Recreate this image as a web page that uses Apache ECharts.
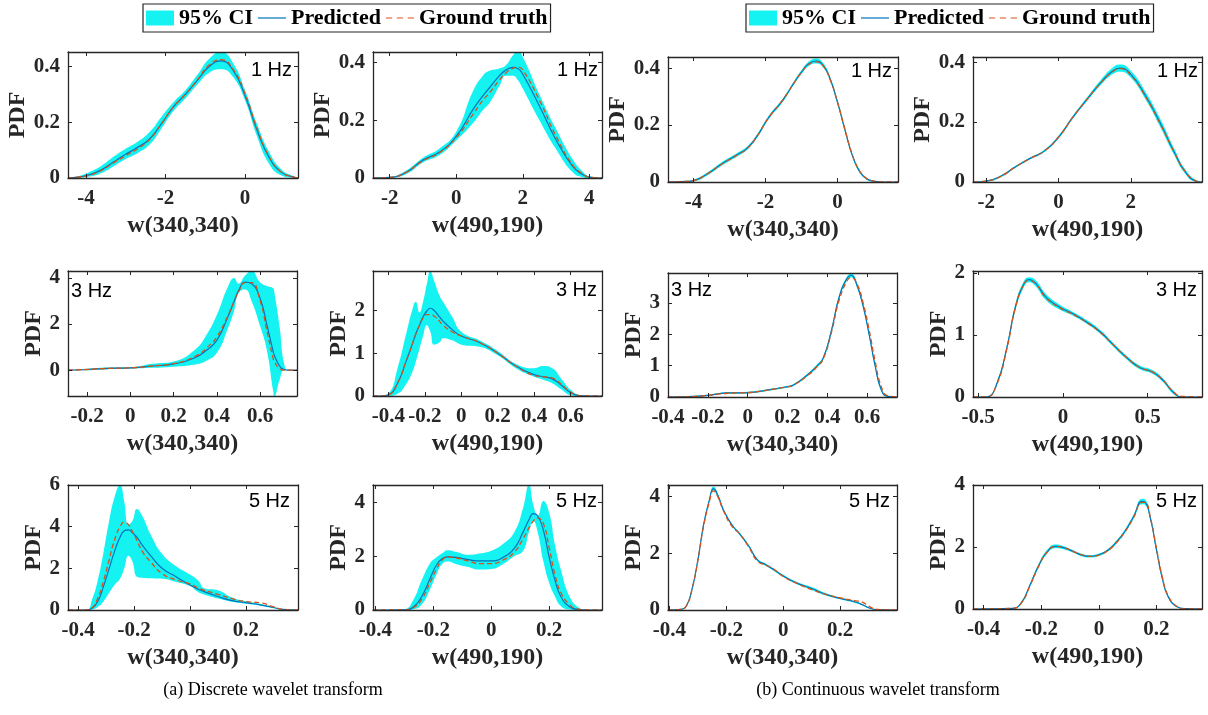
<!DOCTYPE html>
<html>
<head>
<meta charset="utf-8">
<script src="https://cdn.jsdelivr.net/npm/echarts@6/dist/echarts.min.js"></script>
<style>
html,body{margin:0;padding:0;background:#fff}
#chart{width:1208px;height:715px}
</style>
</head>
<body>
<div id="chart"></div>
<script>
// ---------- Discrete wavelet transform ----------
// w(340,340), 1 Hz
const d1a_x    = [-4.45,-4.2,-3.9,-3.6,-3.3,-3.0,-2.7,-2.4,-2.1,-1.8,-1.5,-1.2,-0.9,-0.6,-0.3,0,0.3,0.6,0.9,1.2,1.33];
const d1a_pred = [0,0.003,0.012,0.03,0.058,0.085,0.11,0.14,0.195,0.255,0.3,0.35,0.4,0.42,0.386,0.295,0.172,0.075,0.022,0.004,0];
const d1a_gt   = [0,0.003,0.011,0.028,0.055,0.08,0.105,0.138,0.195,0.255,0.3,0.352,0.405,0.425,0.39,0.302,0.178,0.078,0.022,0.004,0];
const d1a_lo   = [0,0.001,0.005,0.018,0.042,0.068,0.09,0.12,0.178,0.24,0.285,0.335,0.378,0.39,0.362,0.278,0.15,0.052,0.01,0.001,0];
const d1a_hi   = [0,0.006,0.022,0.045,0.077,0.105,0.13,0.165,0.22,0.272,0.315,0.37,0.428,0.452,0.412,0.315,0.195,0.095,0.032,0.007,0.001];

// w(490,190), 1 Hz
const d1b_x    = [-2.5,-2,-1.5,-1,-0.5,0,0.5,0.8,1.0,1.3,1.5,1.7,1.85,2.0,2.5,3.0,3.5,3.8,4.0,4.38];
const d1b_pred = [0,0.002,0.02,0.062,0.09,0.144,0.237,0.285,0.313,0.355,0.375,0.384,0.38,0.36,0.25,0.132,0.04,0.012,0.003,0];
const d1b_gt   = [0,0.002,0.02,0.06,0.088,0.14,0.22,0.27,0.295,0.34,0.365,0.38,0.385,0.375,0.27,0.145,0.045,0.014,0.003,0];
const d1b_lo   = [0,0.001,0.014,0.054,0.08,0.13,0.19,0.235,0.26,0.32,0.355,0.355,0.34,0.31,0.2,0.1,0.02,0.003,0,0];
const d1b_hi   = [0,0.004,0.026,0.07,0.102,0.16,0.3,0.355,0.372,0.38,0.392,0.425,0.44,0.42,0.29,0.17,0.065,0.022,0.006,0];

// w(340,340), 3 Hz
const d3a_x    = [-0.288,-0.2,-0.1,0,0.1,0.2,0.3,0.35,0.4,0.45,0.48,0.5,0.53,0.56,0.6,0.63,0.66,0.665,0.69,0.71,0.73,0.77];
const d3a_pred = [0,0.03,0.08,0.1,0.18,0.27,0.55,0.85,1.3,2.3,3.0,3.45,3.82,3.75,3.1,2.0,0.8,0.65,0.17,0.03,0,0];
const d3a_gt   = [0,0.03,0.08,0.1,0.18,0.28,0.6,0.95,1.45,2.35,3.0,3.4,3.8,3.8,3.0,1.75,0.5,0.38,0.05,0,0,0];
const d3a_lo   = [0,0,0.04,0.06,0.1,0.15,0.25,0.4,0.75,1.8,2.6,3.35,3.5,3.0,1.9,0.9,-0.9,-1.12,-0.4,0,0,0];
const d3a_hi   = [0,0.06,0.12,0.13,0.28,0.38,0.9,1.5,2.4,3.6,4.0,3.75,4.1,4.3,3.8,3.65,3.55,3.4,1.85,0.3,0,0];

// w(490,190), 3 Hz
const d3b_x    = [-0.485,-0.45,-0.4,-0.35,-0.3,-0.27,-0.25,-0.23,-0.21,-0.19,-0.17,-0.15,-0.12,-0.1,-0.05,0,0.1,0.2,0.3,0.4,0.45,0.5,0.55,0.6,0.65,0.7,0.773];
const d3b_pred = [0,0,0.03,0.3,0.85,1.2,1.45,1.65,1.85,1.98,2.05,2.0,1.85,1.75,1.55,1.4,1.25,1.0,0.7,0.5,0.45,0.4,0.25,0.08,0.01,0,0];
const d3b_gt   = [0,0,0.03,0.3,0.85,1.2,1.45,1.65,1.82,1.9,1.9,1.87,1.75,1.65,1.5,1.4,1.25,1.0,0.7,0.48,0.45,0.42,0.27,0.09,0.01,0,0];
const d3b_lo   = [0,0,0,0.05,0.3,0.55,0.8,1.1,1.4,1.65,1.5,1.2,1.25,1.35,1.3,1.2,1.15,0.95,0.65,0.45,0.38,0.3,0.15,0.02,0,0,0];
const d3b_hi   = [0,0,0.06,0.65,1.5,2.0,2.2,1.95,2.2,2.6,2.92,2.7,2.35,2.2,1.85,1.5,1.3,1.05,0.75,0.65,0.7,0.65,0.4,0.15,0.02,0,0];

// w(340,340), 5 Hz
const d5a_x    = [-0.436,-0.37,-0.35,-0.33,-0.31,-0.29,-0.27,-0.25,-0.235,-0.22,-0.205,-0.19,-0.17,-0.14,-0.1,-0.05,0,0.03,0.05,0.1,0.15,0.2,0.25,0.3,0.33,0.386];
const d5a_pred = [0,0,0.08,0.4,1.1,1.95,2.8,3.5,3.8,3.85,3.7,3.5,3.1,2.6,2.0,1.6,1.2,1.0,0.88,0.65,0.45,0.35,0.25,0.12,0.03,0];
const d5a_gt   = [0,0,0.1,0.55,1.35,2.35,3.35,4.0,4.22,4.1,3.75,3.35,2.8,2.3,1.75,1.45,1.25,1.05,0.95,0.75,0.55,0.4,0.35,0.15,0.04,0];
const d5a_lo   = [0,0,0.02,0.15,0.4,0.8,1.2,1.5,2.0,2.6,2.3,1.6,1.55,1.52,1.5,1.35,1.15,0.85,0.75,0.55,0.4,0.3,0.22,0.08,0.01,0];
const d5a_hi   = [0,0,0.5,1.4,2.7,4.2,5.4,6.0,5.2,4.1,4.3,4.85,4.5,3.6,2.7,2.1,1.7,1.4,1.05,0.95,0.6,0.42,0.3,0.12,0.02,0];

// w(490,190), 5 Hz
const d5b_x    = [-0.408,-0.3,-0.27,-0.24,-0.21,-0.19,-0.17,-0.15,-0.12,-0.08,-0.04,0,0.04,0.08,0.11,0.13,0.145,0.16,0.18,0.2,0.22,0.24,0.27,0.3,0.33,0.382];
const d5b_pred = [0,0.01,0.1,0.5,1.2,1.65,1.9,1.97,1.95,1.87,1.82,1.82,1.95,2.3,2.9,3.35,3.58,3.5,2.95,1.95,1.1,0.5,0.12,0.02,0,0];
const d5b_gt   = [0,0.01,0.08,0.4,1.05,1.5,1.85,1.97,1.93,1.82,1.72,1.72,1.85,2.15,2.65,3.05,3.3,3.42,3.2,2.3,1.3,0.65,0.2,0.03,0,0];
const d5b_lo   = [0,0,0.02,0.2,0.8,1.3,1.7,1.8,1.7,1.6,1.5,1.52,1.7,2.0,2.2,2.9,3.3,2.9,1.8,1.0,0.5,0.15,0.02,0,0,0];
const d5b_hi   = [0,0.03,0.35,1.1,1.75,1.95,2.1,2.22,2.15,2.05,2.1,2.2,2.45,2.9,3.8,4.65,3.9,3.5,4.05,3.6,2.4,1.5,0.5,0.1,0,0];

// ---------- Continuous wavelet transform ----------
// w(340,340), 1 Hz
const c1a_x    = [-4.71,-4.2,-4.0,-3.6,-3.2,-2.8,-2.5,-2.2,-2.0,-1.8,-1.6,-1.4,-1.2,-1.0,-0.8,-0.6,-0.4,-0.2,0,0.2,0.4,0.6,0.8,1.0,1.2,1.68];
const c1a_pred = [0,0.002,0.005,0.03,0.065,0.095,0.12,0.168,0.21,0.245,0.274,0.31,0.35,0.386,0.415,0.425,0.41,0.36,0.28,0.186,0.098,0.04,0.012,0.003,0,0];
const c1a_gt   = [0,0.002,0.005,0.03,0.064,0.094,0.119,0.167,0.21,0.245,0.275,0.31,0.35,0.385,0.413,0.422,0.408,0.358,0.28,0.188,0.1,0.042,0.013,0.003,0,0];
const c1a_lo   = [0,0,0.002,0.025,0.059,0.089,0.114,0.162,0.204,0.239,0.268,0.304,0.344,0.379,0.407,0.416,0.402,0.353,0.273,0.179,0.092,0.035,0.009,0.001,0,0];
const c1a_hi   = [0,0.004,0.008,0.035,0.071,0.101,0.126,0.174,0.216,0.251,0.28,0.316,0.356,0.393,0.423,0.434,0.418,0.367,0.287,0.193,0.104,0.045,0.015,0.005,0.001,0];

// w(490,190), 1 Hz
const c1b_x    = [-2.37,-2.0,-1.6,-1.2,-0.8,-0.4,0,0.4,0.8,1.2,1.5,1.7,2.0,2.4,2.8,3.2,3.5,3.8,3.97];
const c1b_pred = [0,0.003,0.019,0.05,0.078,0.103,0.15,0.217,0.278,0.336,0.37,0.38,0.359,0.289,0.2,0.1,0.035,0.003,0];
const c1b_gt   = [0,0.003,0.019,0.05,0.078,0.103,0.15,0.217,0.278,0.335,0.368,0.378,0.356,0.286,0.197,0.1,0.036,0.004,0];
const c1b_lo   = [0,0.001,0.016,0.047,0.075,0.099,0.145,0.212,0.272,0.328,0.36,0.368,0.348,0.277,0.187,0.09,0.028,0.001,0];
const c1b_hi   = [0,0.005,0.022,0.053,0.081,0.107,0.155,0.222,0.284,0.345,0.382,0.392,0.371,0.302,0.214,0.112,0.043,0.006,0];

// w(340,340), 3 Hz
const c3a_x    = [-0.4,-0.3,-0.2,-0.15,-0.1,-0.05,0,0.1,0.2,0.23,0.3,0.35,0.38,0.42,0.46,0.5,0.52,0.55,0.58,0.61,0.64,0.67,0.7,0.75];
const c3a_pred = [0,0.01,0.05,0.1,0.13,0.13,0.14,0.22,0.33,0.38,0.7,1.0,1.25,2.1,3.2,3.8,3.88,3.55,2.9,2.0,1.0,0.25,0.03,0];
const c3a_gt   = [0,0.01,0.05,0.09,0.12,0.13,0.14,0.22,0.33,0.38,0.68,0.98,1.22,2.05,3.1,3.72,3.82,3.6,3.0,2.15,1.15,0.35,0.05,0];
const c3a_lo   = [0,0,0.03,0.08,0.1,0.1,0.11,0.19,0.3,0.35,0.66,0.95,1.19,2.03,3.13,3.74,3.82,3.48,2.83,1.93,0.94,0.2,0.01,0];
const c3a_hi   = [0,0.02,0.07,0.12,0.16,0.16,0.17,0.25,0.36,0.41,0.74,1.05,1.31,2.17,3.27,3.86,3.94,3.62,2.97,2.07,1.06,0.3,0.05,0];

// w(490,190), 3 Hz
const c3b_x    = [-0.53,-0.45,-0.39,-0.33,-0.28,-0.23,-0.2,-0.16,-0.1,-0.02,0.06,0.14,0.22,0.29,0.37,0.45,0.53,0.59,0.65,0.7,0.82];
const c3b_pred = [0,0,0.21,0.8,1.45,1.82,1.89,1.83,1.61,1.45,1.34,1.21,1.05,0.86,0.65,0.48,0.4,0.27,0.08,0,0];
const c3b_gt   = [0,0,0.2,0.78,1.44,1.82,1.88,1.82,1.6,1.44,1.33,1.2,1.04,0.86,0.65,0.48,0.4,0.27,0.09,0.01,0];
const c3b_lo   = [0,0,0.18,0.76,1.4,1.77,1.85,1.78,1.56,1.41,1.31,1.18,1.02,0.83,0.62,0.45,0.37,0.24,0.05,0,0];
const c3b_hi   = [0,0.01,0.24,0.84,1.5,1.87,1.93,1.88,1.66,1.49,1.37,1.24,1.08,0.89,0.68,0.51,0.43,0.3,0.11,0.01,0];

// w(340,340), 5 Hz
const c5a_x    = [-0.405,-0.36,-0.34,-0.32,-0.3,-0.28,-0.26,-0.245,-0.23,-0.21,-0.18,-0.15,-0.12,-0.09,-0.06,-0.03,0,0.05,0.1,0.15,0.2,0.25,0.28,0.3,0.33,0.4];
const c5a_pred = [0,0.02,0.15,0.76,1.76,3.0,3.86,4.28,4.05,3.53,3.0,2.65,2.24,1.76,1.59,1.4,1.2,0.94,0.76,0.55,0.41,0.29,0.18,0.08,0.01,0];
const c5a_gt   = [0,0.02,0.15,0.75,1.75,2.95,3.8,4.2,4.0,3.5,2.95,2.65,2.2,1.72,1.58,1.42,1.18,0.93,0.72,0.55,0.43,0.33,0.27,0.14,0.02,0];
const c5a_lo   = [0,0.01,0.12,0.71,1.7,2.93,3.79,4.2,3.98,3.48,2.96,2.61,2.2,1.72,1.55,1.36,1.16,0.9,0.71,0.51,0.38,0.26,0.16,0.06,0,0];
const c5a_hi   = [0,0.03,0.18,0.81,1.82,3.07,3.93,4.36,4.12,3.58,3.04,2.69,2.28,1.8,1.63,1.44,1.24,0.98,0.81,0.59,0.44,0.32,0.2,0.1,0.02,0];

// w(490,190), 5 Hz
const c5b_x    = [-0.437,-0.3,-0.27,-0.24,-0.21,-0.18,-0.15,-0.12,-0.09,-0.06,-0.03,0,0.03,0.06,0.09,0.12,0.15,0.16,0.18,0.2,0.22,0.24,0.27,0.3,0.358];
const c5b_pred = [0,0.02,0.19,0.75,1.38,1.84,2.02,1.97,1.86,1.74,1.7,1.75,1.89,2.15,2.5,2.97,3.47,3.45,2.88,1.91,1.0,0.41,0.08,0.01,0];
const c5b_gt   = [0,0.02,0.18,0.73,1.36,1.83,2.02,1.98,1.86,1.75,1.7,1.74,1.88,2.13,2.48,2.94,3.44,3.44,2.9,1.95,1.04,0.44,0.09,0.01,0];
const c5b_lo   = [0,0.01,0.15,0.7,1.32,1.78,1.96,1.92,1.82,1.7,1.66,1.71,1.85,2.1,2.44,2.9,3.38,3.36,2.8,1.84,0.94,0.37,0.06,0,0];
const c5b_hi   = [0,0.03,0.23,0.8,1.44,1.9,2.08,2.02,1.9,1.78,1.74,1.79,1.93,2.2,2.56,3.04,3.56,3.54,2.96,1.98,1.06,0.45,0.1,0.02,0];

// tick values
const ticksW1a = [-4,-2,0];
const ticksW1b = [-2,0,2,4];
const ticksW1bc = [-2,0,2];
const ticksW3a = [-0.2,0,0.2,0.4,0.6];
const ticksW3b = [-0.4,-0.2,0,0.2,0.4,0.6];
const ticksW3c = [-0.5,0,0.5];
const ticksW5 = [-0.4,-0.2,0,0.2];
const ticksP04 = [0,0.2,0.4];

const curves = {
  d1a:[d1a_x,d1a_pred,d1a_gt,d1a_lo,d1a_hi], d1b:[d1b_x,d1b_pred,d1b_gt,d1b_lo,d1b_hi],
  d3a:[d3a_x,d3a_pred,d3a_gt,d3a_lo,d3a_hi], d3b:[d3b_x,d3b_pred,d3b_gt,d3b_lo,d3b_hi],
  d5a:[d5a_x,d5a_pred,d5a_gt,d5a_lo,d5a_hi], d5b:[d5b_x,d5b_pred,d5b_gt,d5b_lo,d5b_hi],
  c1a:[c1a_x,c1a_pred,c1a_gt,c1a_lo,c1a_hi], c1b:[c1b_x,c1b_pred,c1b_gt,c1b_lo,c1b_hi],
  c3a:[c3a_x,c3a_pred,c3a_gt,c3a_lo,c3a_hi], c3b:[c3b_x,c3b_pred,c3b_gt,c3b_lo,c3b_hi],
  c5a:[c5a_x,c5a_pred,c5a_gt,c5a_lo,c5a_hi], c5b:[c5b_x,c5b_pred,c5b_gt,c5b_lo,c5b_hi]
};

// subplot layout: plot box [left, top, width, height], axis limits, ticks, frequency tag
const panels = [
  {id:'d1a', box:[68,52,230,126],  xr:[-4.45,1.33],  yr:[0,0.452],   xt:ticksW1a,  yt:ticksP04,  xname:'w(340,340)', yGap:34, tag:'1 Hz', tagAt:[292,70,'right']},
  {id:'d1b', box:[373,52,229,126], xr:[-2.5,4.38],   yr:[0,0.437],   xt:ticksW1b,  yt:ticksP04,  xname:'w(490,190)', yGap:34, tag:'1 Hz', tagAt:[598,70,'right']},
  {id:'d3a', box:[68,271,229,125], xr:[-0.288,0.77], yr:[-1.12,4.3], xt:ticksW3a,  yt:[0,2,4],   xname:'w(340,340)', yGap:22, tag:'3 Hz', tagAt:[71,291,'left']},
  {id:'d3b', box:[373,271,229,125],xr:[-0.485,0.773],yr:[0,2.92],    xt:ticksW3b,  yt:[0,1,2],   xname:'w(490,190)', yGap:22, tag:'3 Hz', tagAt:[597,290,'right']},
  {id:'d5a', box:[68,485,230,125], xr:[-0.436,0.386],yr:[0,6],       xt:ticksW5,   yt:[0,2,4,6], xname:'w(340,340)', yGap:22, tag:'5 Hz', tagAt:[290,501,'right']},
  {id:'d5b', box:[373,485,229,125],xr:[-0.408,0.382],yr:[0,4.64],    xt:ticksW5,   yt:[0,2,4],   xname:'w(490,190)', yGap:22, tag:'5 Hz', tagAt:[597,501,'right']},
  {id:'c1a', box:[668,57,230,125], xr:[-4.71,1.68],  yr:[0,0.439],   xt:ticksW1a,  yt:ticksP04,  xname:'w(340,340)', yGap:34, tag:'1 Hz', tagAt:[892,71,'right']},
  {id:'c1b', box:[973,57,229,125], xr:[-2.37,3.97],  yr:[0,0.417],   xt:ticksW1bc, yt:ticksP04,  xname:'w(490,190)', yGap:34, tag:'1 Hz', tagAt:[1198,71,'right']},
  {id:'c3a', box:[668,273,229,124],xr:[-0.4,0.75],   yr:[0,3.96],    xt:ticksW3b,  yt:[0,1,2,3], xname:'w(340,340)', yGap:22, tag:'3 Hz', tagAt:[671,290,'left']},
  {id:'c3b', box:[973,271,229,126],xr:[-0.53,0.82],  yr:[0,2.03],    xt:ticksW3c,  yt:[0,1,2],   xname:'w(490,190)', yGap:22, tag:'3 Hz', tagAt:[1197,290,'right']},
  {id:'c5a', box:[668,485,229,125],xr:[-0.405,0.4],  yr:[0,4.41],    xt:ticksW5,   yt:[0,2,4],   xname:'w(340,340)', yGap:22, tag:'5 Hz', tagAt:[890,501,'right']},
  {id:'c5b', box:[973,485,229,124],xr:[-0.437,0.358],yr:[0,4],       xt:ticksW5,   yt:[0,2,4],   xname:'w(490,190)', yGap:22, tag:'5 Hz', tagAt:[1197,501,'right']}
];

const SERIF = '"Liberation Serif","Times New Roman",Times,serif';
const SANS = '"Liberation Sans",Arial,Helvetica,sans-serif';
const INK = '#262626';
const CYAN = '#14f2f2';
const BLUE = '#0072BD';
const ORANGE = '#D95319';
const SMOOTH = 0.5;

const pts = (xs, ys) => xs.map((x, k) => [x, ys[k]]);
const tickStyle = vals => ({show:true, inside:true, length:4, customValues:vals, lineStyle:{color:INK, width:1}});
const lineStyleAxis = {show:true, onZero:false, lineStyle:{color:INK, width:1.3}};
const labelFont = {fontFamily:SERIF, fontSize:21, fontWeight:'bold', color:INK};
const nameFont = {fontFamily:SERIF, fontSize:24, fontWeight:'bold', color:INK};

const grids = [], xAxes = [], yAxes = [], series = [], graphics = [];

panels.forEach((p, i) => {
  const [xs, pred, gt, lo, hi] = curves[p.id];
  grids.push({left:p.box[0], top:p.box[1], width:p.box[2], height:p.box[3], containLabel:false});

  xAxes.push({
    type:'value', gridIndex:i, position:'bottom', min:p.xr[0], max:p.xr[1], z:5,
    axisLine:lineStyleAxis, axisTick:tickStyle(p.xt), splitLine:{show:false},
    axisLabel:Object.assign({customValues:p.xt, margin:10, formatter:v => String(v)}, labelFont),
    name:p.xname, nameLocation:'middle', nameGap:36, nameTextStyle:nameFont
  });
  xAxes.push({
    type:'value', gridIndex:i, position:'top', min:p.xr[0], max:p.xr[1], z:5,
    axisLine:lineStyleAxis, axisTick:tickStyle(p.xt), splitLine:{show:false}, axisLabel:{show:false}
  });
  yAxes.push({
    type:'value', gridIndex:i, position:'left', min:p.yr[0], max:p.yr[1], z:5,
    axisLine:lineStyleAxis, axisTick:tickStyle(p.yt), splitLine:{show:false},
    axisLabel:Object.assign({customValues:p.yt, margin:8, formatter:v => String(v)}, labelFont),
    name:'PDF', nameLocation:'middle', nameGap:p.yGap, nameTextStyle:nameFont
  });
  yAxes.push({
    type:'value', gridIndex:i, position:'right', min:p.yr[0], max:p.yr[1], z:5,
    axisLine:lineStyleAxis, axisTick:tickStyle(p.yt), splitLine:{show:false}, axisLabel:{show:false}
  });

  const ax = {xAxisIndex:2 * i, yAxisIndex:2 * i, symbol:'none', smooth:SMOOTH, silent:true, animation:false};
  // confidence band: cyan up to the upper bound, cleared below the lower bound
  series.push(Object.assign({type:'line', name:'95% CI', data:pts(xs, hi), z:1,
    lineStyle:{width:0}, itemStyle:{color:CYAN}, areaStyle:{color:CYAN, opacity:1, origin:'start'}}, ax));
  series.push(Object.assign({type:'line', name:'CI lower', data:pts(xs, lo), z:1,
    lineStyle:{width:0}, itemStyle:{color:'#ffffff'}, areaStyle:{color:'#ffffff', opacity:1, origin:'start'}}, ax));
  series.push(Object.assign({type:'line', name:'Predicted', data:pts(xs, pred), z:2,
    lineStyle:{color:BLUE, width:1.2}, itemStyle:{color:BLUE}}, ax));
  series.push(Object.assign({type:'line', name:'Ground truth', data:pts(xs, gt), z:3,
    lineStyle:{color:ORANGE, width:1.3, type:[5, 3]}, itemStyle:{color:ORANGE}}, ax));

  graphics.push({type:'text', x:p.tagAt[0], y:p.tagAt[1], z:100,
    style:{text:p.tag, align:p.tagAt[2], verticalAlign:'middle', fontFamily:SANS, fontSize:20, fill:'#000'}});
});

graphics.push({type:'text', x:273, y:690, z:100,
  style:{text:'(a) Discrete wavelet transform', align:'center', verticalAlign:'middle', fontFamily:SERIF, fontSize:18, fill:'#000'}});
graphics.push({type:'text', x:878, y:690, z:100,
  style:{text:'(b) Continuous wavelet transform', align:'center', verticalAlign:'middle', fontFamily:SERIF, fontSize:18, fill:'#000'}});

const legendItems = [
  {name:'95% CI', icon:'rect'},
  {name:'Predicted', icon:'path://M0,0H28V1.2H0Z'},
  {name:'Ground truth', icon:'path://M0,0H6V1.2H0Z M10.5,0H16.5V1.2H10.5Z M21,0H27V1.2H21Z'}
];
const legends = [143, 746].map(left => ({
  left, top:4, orient:'horizontal', data:legendItems, selectedMode:false,
  itemWidth:28, itemHeight:15, itemGap:5, padding:[3, 3],
  borderColor:INK, borderWidth:1.2, borderRadius:0, backgroundColor:'#fff',
  itemStyle:{borderWidth:0},
  textStyle:{fontFamily:SERIF, fontSize:22, fontWeight:'bold', color:'#000'}
}));

const chart = echarts.init(document.getElementById('chart'), null, {renderer:'canvas'});
chart.setOption({
  backgroundColor:'#ffffff',
  animation:false,
  grid:grids,
  xAxis:xAxes,
  yAxis:yAxes,
  legend:legends,
  series:series,
  graphic:graphics
});
</script>
</body>
</html>
